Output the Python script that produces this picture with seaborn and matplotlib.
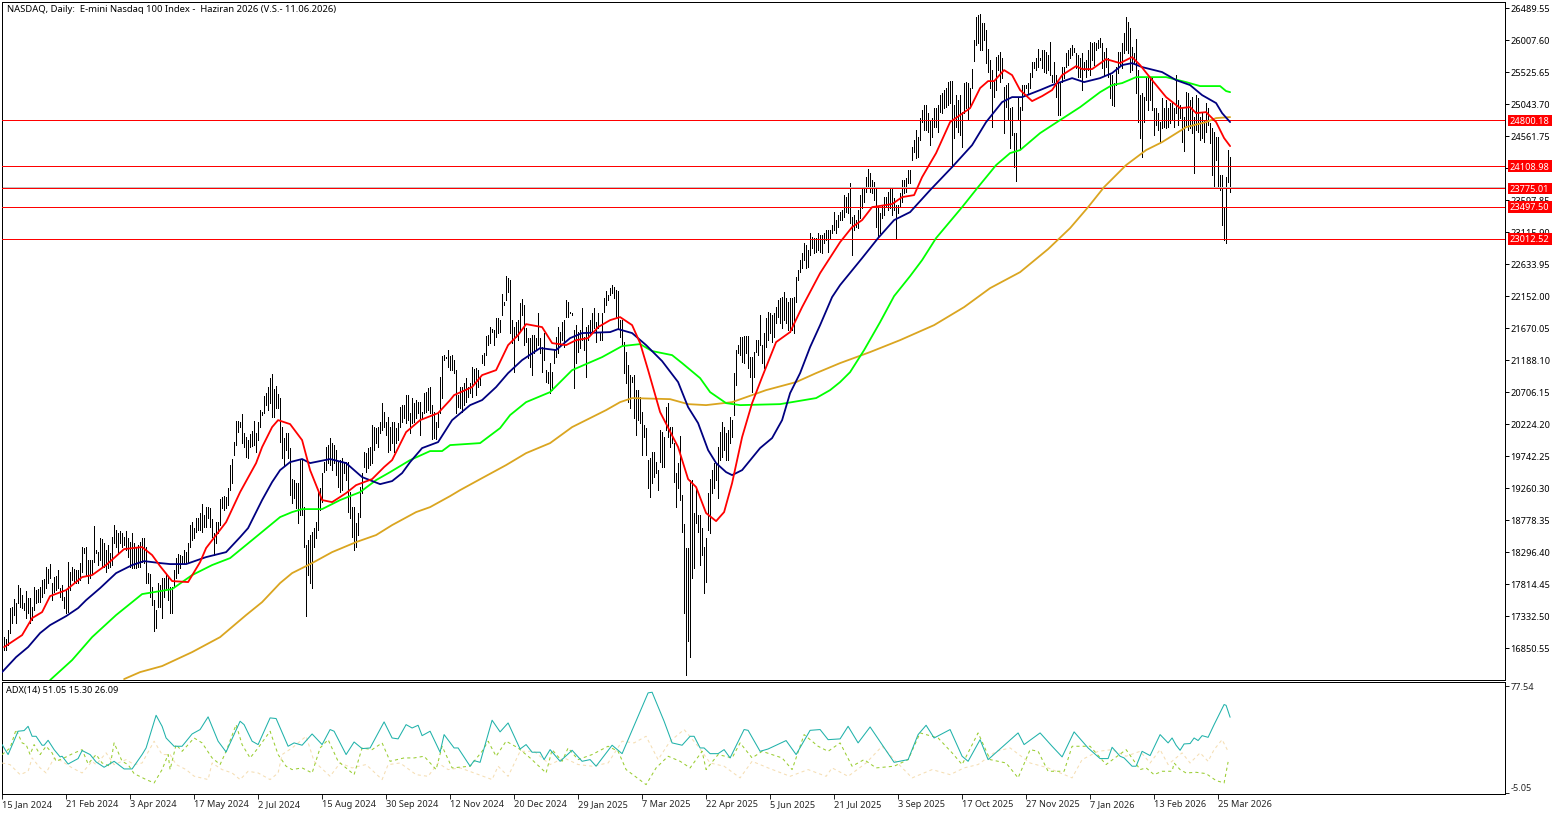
import numpy as np
import pandas as pd
import matplotlib
matplotlib.use("Agg")
import matplotlib.pyplot as plt
from matplotlib.patches import Rectangle
from matplotlib.transforms import blended_transform_factory
import seaborn as sns

bar_high = [
17022,16982,17122,17449,17464,17584,17534,17800,17750,17650,
17524,17715,17600,17600,17474,17765,17725,17745,17765,17875,
17885,18066,18036,18111,17825,17925,17935,18026,17750,17800,
17624,17725,18146,18001,18076,18041,18026,18026,18126,18367,
18352,18367,18177,18177,18177,18689,18327,18302,18503,18488,
18428,18327,18403,18277,18528,18704,18628,18588,18608,18578,
18528,18613,18503,18453,18578,18428,18378,18403,18453,18503,
18513,18378,17976,17966,17775,17574,17424,17825,17800,17900,
17900,17951,17925,17775,17775,18026,18202,18267,18252,18237,
18327,18302,18428,18704,18754,18654,18804,18804,18879,19015,
18854,18970,18980,18955,18794,18578,18744,18754,19090,19130,
19145,19130,19256,19607,19693,19959,20270,20270,20260,20375,
20084,20024,19984,20074,20114,20270,20084,20250,20436,20410,
20646,20697,20787,20912,20978,20747,20797,20677,20611,20185,
20009,20084,20084,19868,19391,19381,19331,19331,19683,19683,
18970,18403,18478,18553,18603,18653,18754,19206,19256,19482,
19657,19883,19908,20009,19934,19908,19833,19657,19683,19708,
19632,19657,19657,19206,18980,18980,18729,18879,19281,19482,
19808,19783,19858,19883,20210,20185,20160,20185,20260,20536,
20410,20260,20335,20185,20260,20260,20160,20235,20486,20511,
20511,20661,20661,20385,20611,20536,20586,20561,20561,20410,
20687,20712,20762,20787,20511,20410,20260,20385,20928,21249,
21264,21239,21339,21249,21264,21189,21038,20661,20787,20787,
20837,20912,20787,20837,21078,21048,21063,21038,20928,21264,
21289,21550,21565,21691,21650,21640,21816,21816,21791,22183,
22067,22454,22418,22393,21791,21691,21766,21791,22042,22102,
22017,21666,21515,21515,21565,21565,21515,21891,21515,21389,
21590,21038,21013,21138,21013,21339,21540,21691,21615,21766,
21791,22092,22067,21917,21891,21640,21716,21615,21640,21967,
21540,21691,21716,21791,21891,21967,21766,21891,21615,21891,
22117,22233,22168,22268,22318,22293,22243,22233,21791,21791,
21465,21314,21113,20963,20938,20963,20737,20737,20636,20410,
20210,20160,19683,19708,19808,19808,19657,19532,20134,20109,
20034,20485,20536,20184,20184,19933,19481,19632,20044,19155,
18718,18352,18352,19381,19381,18879,19281,18854,18854,18653,
18377,18502,19180,19391,19532,19632,19632,19883,20109,20259,
20184,20084,20134,20335,20285,20987,21339,21414,21530,21540,
21550,21555,21550,21238,21238,21314,21489,21489,21866,21414,
21590,21816,21916,21891,21866,21891,21991,22092,22117,22142,
22217,22117,22067,22117,22117,22142,22443,22544,22694,22795,
22945,22920,22845,23096,23046,23020,23020,23106,23071,23071,
23096,23146,23146,23146,23221,23422,23296,23372,23422,23447,
23673,23648,23698,23849,23347,23372,23296,23447,23673,23798,
23798,23949,24059,23999,23899,23874,23773,23497,23397,23522,
23648,23648,23723,23798,23773,23623,23522,23522,23698,23899,
23899,23924,24049,24049,24401,24501,24652,24551,24827,24953,
25028,25028,24903,24802,24827,24978,24978,25028,25179,25204,
25254,25279,25380,25390,25390,25028,25179,25104,25179,24928,
25355,25380,25355,25279,25565,26007,26359,26384,26399,26258,
26268,26158,25867,25706,25555,25405,25756,25781,25831,25731,
25304,25329,25355,24978,25003,24602,24602,25154,25003,25329,
25329,25329,25355,25505,25681,25681,25731,25867,25731,25857,
25857,25831,25781,25982,25480,25681,25480,25380,25380,25606,
25606,25806,25857,25882,25932,25882,25806,25781,25731,25806,
25681,25706,25857,25982,25957,25982,25957,26007,26032,25957,
25831,25882,25731,25505,25480,25355,25606,25831,25831,25957,
26108,26349,26283,26183,25907,25806,26017,25555,25179,25204,
25154,25430,25430,25430,25430,24978,24978,24903,24777,25129,
24978,25104,24978,25053,25053,24978,25480,25104,25028,25003,
24853,25229,25204,25104,25154,24853,25179,25129,24853,24928,
24802,25053,24978,24752,24677,24627,24551,24551,23974,23974,
23497,23949,24351,24250]

bar_low = [
16821,16821,16897,17072,17223,17348,17223,17524,17474,17449,
17424,17298,17373,17223,17273,17424,17524,17549,17549,17624,
17675,17750,17825,17900,17574,17700,17725,17750,17624,17574,
17449,17373,17398,17725,17875,17850,17825,17825,17875,18001,
18277,17951,17825,17900,17976,18151,18277,18101,18177,18076,
18076,18001,18051,18076,18101,18428,18378,18277,18428,18378,
18403,18327,18227,18076,18051,18051,18051,18076,18076,18151,
18126,17825,17825,17624,17499,17112,17147,17474,17474,17298,
17624,17725,17574,17383,17383,17775,17900,17976,18051,18126,
18126,18126,18126,18378,18478,18503,18603,18628,18628,18603,
18679,18679,18804,18679,18528,18252,18428,18578,18704,18955,
18930,18955,19005,19231,19331,19758,19908,20109,20185,19944,
19883,19723,19708,19883,19893,19909,19808,19984,20185,20360,
20385,20511,20436,20536,20335,20335,20461,20461,19959,19708,
19607,19833,19708,19155,19030,19105,18955,18729,18854,18854,
18377,17338,17951,17825,17750,18377,18503,18628,18930,19055,
19507,19532,19632,19607,19532,19632,19457,19281,19206,19231,
19482,19381,18904,18804,18528,18327,18377,18553,18829,19181,
19582,19507,19557,19607,19632,19833,19934,19883,20084,20134,
20185,20059,19808,19833,19934,19808,19934,19984,20185,20260,
20310,20235,20285,20084,20235,20260,20310,20385,20059,20310,
20385,20410,20436,20385,20000,20009,19994,20185,20385,20611,
21189,21214,21088,21038,21038,20988,20395,20486,20461,20410,
20511,20561,20636,20687,20636,20837,20661,20787,20812,21138,
21113,21264,21415,21440,21615,21415,21540,21590,21615,21866,
22017,22092,22218,21590,21440,21013,21540,21490,21640,21866,
21415,21465,21214,21088,20963,21289,21339,21415,21289,21013,
21189,20862,20837,20687,20737,21138,21239,21289,21415,21490,
21389,21841,21841,21891,21866,20762,21138,21314,21364,21490,
21339,20938,21490,21565,21590,21666,21465,21666,21490,21490,
21917,22017,22092,22168,22193,22117,21841,21666,21540,21415,
20988,20837,20561,20461,20862,20310,20059,20285,20235,19758,
20034,19758,19256,19130,19331,19432,19482,19231,19657,19582,
19582,20134,20034,19883,19933,19356,18979,19255,19080,18603,
17373,16444,16961,16720,17900,18051,18728,18603,18101,18251,
17684,17850,18628,18588,19180,19255,19381,19105,19682,19732,
19833,19682,19682,19933,20034,20360,20812,21289,21263,21163,
21138,21289,21063,20937,20711,20937,21314,21263,21414,21138,
21063,21389,21489,21590,21464,21540,21740,21841,21740,21665,
21791,21740,21640,21615,21640,21590,22067,22393,22518,22569,
22694,22569,22594,22769,22870,22795,22820,22845,22820,22795,
22945,22995,22820,23020,23096,23146,23096,23196,23296,23296,
23347,23422,23397,23246,22769,23146,23196,23171,23322,23472,
23572,23723,23773,23723,23698,23597,23196,23045,23096,23322,
23372,23497,23447,23472,23372,23447,23020,23397,23497,23572,
23698,23723,23849,23849,24200,24325,24225,24250,24501,24777,
24652,24652,24627,24426,24551,24702,24702,24627,24928,24903,
24978,25003,25028,25053,24125,24526,24702,24627,24576,24401,
24903,24978,24802,25003,25279,25696,25932,25957,25857,25857,
26007,25656,25530,25279,24702,25154,25254,25555,25380,25430,
24602,25003,24802,24376,24576,24100,23889,24802,24376,24953,
25179,25279,25204,25279,25455,25580,25555,25606,25706,25580,
25530,25505,25555,25480,25380,25380,25154,24878,24878,25380,
25430,25606,25631,25731,25781,25831,25580,25455,25455,25254,
25555,25455,25555,25480,25706,25631,25857,25882,25907,25580,
25480,25606,25455,25129,25028,25013,25329,25505,25631,25580,
25806,25857,25806,25530,25555,25656,25204,24777,24526,24240,
24777,25104,24953,25104,24953,24576,24727,24652,24476,24677,
24702,24677,24702,24752,24802,24702,24903,24727,24827,24476,
24341,24727,24652,24677,24602,23999,24652,24627,24501,24526,
24476,24627,24727,24451,23974,23773,24200,23773,23748,23221,
22995,22955,23874,23723]

red_bar = [1,10,15,20,24,32,40,45,52,61,70,75,79,85,93,99,102,107,112,119,127,130,135,138,144,150,154,160,165,172,177,185,191,195,202,209,218,224,226,235,240,247,253,258,262,270,275,282,287,293,298,304,309,315,319,323,329,338,343,347,352,357,361,365,370,375,380,387,394,400,409,419,425,430,435,445,450,456,460,467,474,484,489,493,496,501,505,509,515,520,525,530,537,540,545,552,559,565,569,575,582,589,594,597,602,607,611,614]
red_val = [16866,17046,17302,17393,17634,17724,17920,17950,18101,18342,18372,18252,18085,17860,17845,18146,18357,18553,18748,19200,19637,19878,20179,20284,20224,19983,19531,19080,19049,19185,19305,19396,19577,19682,20104,20284,20390,20586,20661,20782,20962,21037,21414,21565,21730,21685,21444,21414,21489,21519,21685,21790,21836,21715,21444,21037,20405,19878,19396,19276,18884,18763,18899,19336,20028,20540,20932,21459,21610,21986,22498,22965,23191,23297,23492,23538,23643,23673,23944,24306,24773,24983,25285,25390,25390,25556,25480,25255,25089,25164,25255,25480,25616,25571,25571,25721,25661,25752,25631,25405,25149,24983,24998,24908,24923,24773,24532,24411]

navy_bar = [0,7,13,19,24,32,38,42,49,57,65,71,79,84,92,102,112,119,123,130,135,139,144,150,154,164,172,180,189,195,200,204,210,218,225,234,240,247,253,260,269,277,284,290,304,308,315,322,330,338,343,348,353,357,362,365,370,379,385,390,394,399,404,409,415,419,430,438,446,454,464,475,485,492,500,505,510,519,525,535,541,549,555,560,565,570,580,587,594,600,607,610,614]
navy_val = [16489,16715,16866,17077,17197,17332,17453,17573,17754,17980,18101,18161,18131,18116,18116,18221,18296,18522,18658,19080,19351,19531,19652,19698,19637,19698,19637,19426,19320,19366,19486,19652,19863,19953,20284,20510,20586,20782,20992,21188,21369,21339,21519,21595,21610,21655,21595,21414,21173,20857,20480,20239,19833,19637,19501,19456,19531,19863,20014,20284,20691,20992,21384,21715,22137,22318,22724,23026,23297,23417,23748,24095,24426,24773,25074,25149,25149,25255,25330,25435,25375,25435,25511,25631,25661,25601,25526,25405,25330,25179,25059,24908,24773]

lime_bar = [24,35,45,57,70,85,95,105,114,125,139,145,150,160,169,179,187,194,204,214,220,224,239,249,254,262,274,285,300,310,319,325,335,340,349,354,362,369,389,407,414,419,424,431,439,446,454,460,467,480,488,497,504,509,519,529,539,549,555,560,567,582,592,599,609,612,614]
lime_val = [16369,16670,17016,17348,17664,17739,17950,18101,18206,18477,18824,18899,18944,18944,19080,19200,19381,19501,19682,19818,19818,19908,19938,20164,20360,20555,20706,21037,21233,21399,21429,21324,21263,21143,20917,20706,20540,20510,20525,20616,20736,20857,21007,21339,21760,22152,22453,22694,23026,23492,23794,24125,24306,24351,24607,24803,24998,25224,25330,25360,25450,25450,25375,25315,25315,25240,25224]

gold_bar = [61,69,80,95,109,122,130,139,145,155,165,177,187,195,207,214,224,229,240,252,262,274,285,302,309,315,334,343,352,365,375,382,397,407,419,434,449,466,481,494,509,523,534,543,551,562,572,580,592,602,607,614]
gold_val = [16384,16489,16580,16790,17016,17348,17543,17830,17980,18131,18296,18447,18553,18703,18899,18974,19140,19230,19411,19607,19787,19938,20179,20435,20555,20616,20600,20525,20510,20555,20661,20736,20857,20992,21143,21309,21489,21715,21986,22272,22513,22860,23176,23492,23794,24125,24351,24471,24697,24773,24833,24848]

level_prices = [24800.18, 24108.98, 23775.01, 23497.50, 23012.52]
level_labels = ["24800.18", "24108.98", "23775.01", "23497.50", "23012.52"]
bid_price = 23790

price_ticks = [26489.55,26007.60,25525.65,25043.70,24561.75,24079.80,23597.85,23115.90,22633.95,22152.00,21670.05,21188.10,20706.15,20224.20,19742.25,19260.30,18778.35,18296.40,17814.45,17332.50,16850.55]

adx_bar = [0,3,8,11,13,15,17,20,21,23,26,29,30,33,38,40,44,47,51,56,61,65,70,72,77,80,82,86,90,95,99,103,108,112,119,121,125,128,134,137,143,146,150,155,160,164,166,172,176,180,184,191,195,198,202,205,208,210,214,219,221,226,228,234,236,239,245,249,253,259,262,265,269,271,274,279,285,290,294,297,305,310,323,325,331,335,340,344,346,349,351,354,358,361,364,371,373,379,383,392,397,404,409,413,419,423,428,434,440,446,453,458,462,466,474,480,483,489,493,508,511,519,525,530,536,543,549,553,555,559,561,565,567,570,574,579,583,585,587,589,591,594,596,598,600,603,606,611,612,614]
adx_val = [32.4,24.7,42.7,43.2,46.5,38.8,38.8,31.9,31.9,35.7,28.5,22.9,23.4,17.4,21.6,27.8,24.7,19.0,14.9,19.5,13.6,13.6,24.7,29.8,55.0,46.5,37.5,31.1,31.1,40.6,44.0,53.8,35.0,26.7,50.4,47.8,35.0,32.4,53.0,52.5,31.1,33.7,31.9,40.6,32.4,44.0,42.7,24.7,34.4,29.3,29.8,49.9,37.5,36.8,47.8,45.2,47.3,39.3,42.7,26.5,40.1,29.8,29.8,15.7,20.0,18.7,51.2,42.2,49.1,29.0,32.4,26.5,26.5,20.8,28.5,19.5,28.0,19.5,20.8,15.7,31.9,25.4,72.3,72.8,50.4,33.7,31.9,38.8,38.8,29.8,29.8,25.4,25.4,28.5,22.1,44.0,43.4,27.2,29.0,35.5,24.7,43.4,44.0,36.2,36.8,46.5,33.7,46.0,32.4,18.7,20.8,40.1,47.3,37.5,44.0,23.4,19.5,36.2,20.8,41.4,32.4,41.4,31.1,22.9,42.2,29.8,21.6,21.6,30.3,23.4,22.1,15.7,15.7,27.2,23.9,40.1,33.7,37.5,31.9,28.0,32.9,33.2,37.5,35.5,39.3,38.0,47.8,63.3,62.7,53.5]

plus_bar = [0,4,7,10,12,14,16,19,22,25,27,31,35,40,43,47,50,54,56,60,63,66,72,76,80,83,84,87,90,96,100,105,109,112,117,120,124,128,134,138,142,145,150,155,159,163,168,176,180,185,190,194,201,206,211,217,220,225,234,240,243,247,252,258,264,272,275,280,283,288,295,303,308,312,322,327,333,339,344,350,352,358,365,369,375,380,390,395,401,408,413,419,425,431,437,446,453,459,468,475,480,488,494,502,508,514,518,523,531,535,544,552,562,569,572,576,580,585,586,589,592,597,602,607,611,613]
plus_val = [24.7,29.8,44.0,33.7,32.4,24.7,32.4,24.7,31.1,26.0,19.5,22.1,25.2,28.5,17.5,24.7,18.2,15.7,33.7,19.5,16.9,10.0,5.4,2.8,13.1,24.7,13.1,32.4,27.2,37.5,33.7,22.1,17.0,27.2,47.8,32.4,22.1,29.8,42.7,24.7,15.7,13.1,14.4,10.5,29.8,36.2,19.5,9.2,29.8,28.5,33.7,19.5,22.1,22.1,23.4,13.1,31.1,14.4,15.7,27.2,35.0,23.4,35.0,29.8,22.1,10.5,28.5,19.5,29.8,20.8,24.7,31.1,27.2,13.1,1.5,14.4,23.4,19.5,14.4,27.2,13.1,24.7,22.1,33.7,22.1,27.2,22.1,13.1,40.1,31.1,27.2,33.7,15.7,20.8,14.4,15.7,20.8,41.4,37.5,26.0,17.0,41.4,20.8,18.2,6.7,28.5,27.2,11.8,11.8,31.1,31.1,17.0,28.5,13.1,14.4,9.2,11.8,11.8,18.2,13.1,10.5,11.0,10.0,4.6,2.8,19.0]

minus_bar = [0,4,9,13,15,19,22,26,30,35,40,45,47,52,56,62,66,70,76,80,84,87,92,96,103,105,110,115,119,123,128,134,138,140,145,152,156,164,169,175,182,190,193,199,207,213,218,223,229,236,245,248,253,259,266,274,281,288,295,303,310,316,322,328,334,341,348,354,361,369,375,383,394,403,412,415,423,432,440,446,455,465,474,481,488,497,504,514,523,535,540,548,555,562,569,574,579,583,590,594,599,603,606,610,613]
minus_val = [18.2,16.9,9.2,11.8,22.1,14.4,10.5,22.1,19.5,14.4,10.5,19.5,16.9,26.0,16.9,20.8,16.9,18.2,35.0,24.7,24.7,17.0,13.1,8.0,5.4,18.2,13.1,10.5,5.4,11.8,10.5,5.4,10.5,24.7,29.8,38.8,19.5,7.9,18.2,14.4,17.0,5.4,16.9,18.2,9.2,7.9,18.2,13.1,14.4,10.5,5.4,15.7,7.9,27.2,27.2,17.0,22.1,17.0,15.7,18.2,35.0,33.7,38.8,20.8,35.0,44.0,31.1,18.2,15.7,6.7,19.5,14.4,7.9,13.1,7.9,14.4,7.9,18.2,31.1,20.8,6.7,13.1,9.2,14.4,17.0,27.2,29.8,18.2,14.4,6.7,20.8,27.2,28.5,23.4,27.2,18.2,28.5,17.0,26.0,18.2,26.0,19.5,28.5,36.2,27.2]

date_labels = ["15 Jan 2024","21 Feb 2024","3 Apr 2024","17 May 2024","2 Jul 2024","15 Aug 2024","30 Sep 2024","12 Nov 2024","20 Dec 2024","29 Jan 2025","7 Mar 2025","22 Apr 2025","5 Jun 2025","21 Jul 2025","3 Sep 2025","17 Oct 2025","27 Nov 2025","7 Jan 2026","13 Feb 2026","25 Mar 2026"]
LABEL_EVERY = 32

chart_title = "NASDAQ, Daily:  E-mini Nasdaq 100 Index -  Haziran 2026 (V.S.- 11.06.2026)"
adx_title = "ADX(14) 51.05 15.30 26.09"

sns.set_style("white")
plt.rcParams['font.family'] = ['Noto Sans', 'DejaVu Sans']
W, H = 1563, 815
PX = 0.72
FS = 6.6
fig = plt.figure(figsize=(W/100, H/100), dpi=100)
OFF = 0.4
L, R = 2.5-OFF, 1505.5-OFF
ax = fig.add_axes([L/W, (H-680.5+OFF)/H, (R-L)/W, 678/H])
sub = fig.add_axes([L/W, (H-794.5+OFF)/H, (R-L)/W, 112/H])

step = 481.95/32
y_top = 26489.55 + 6*step
y_bot = 26489.55 - 672*step
xlim = (0, (R-L)/2)
for a in (ax, sub):
    a.set_xlim(*xlim)
    for s in a.spines.values():
        s.set_visible(True)
        s.set_color("black")
        s.set_linewidth(PX)
ax.set_ylim(y_bot, y_top)
adx_step = 82.59/107
sub.set_ylim(77.54 - 108*adx_step, 77.54 + 4*adx_step)

bars = pd.DataFrame({"bar": np.arange(1, len(bar_high)+1), "high": bar_high, "low": bar_low})
ax.vlines(bars["bar"], bars["low"], bars["high"], color="black", lw=PX, antialiased=False, zorder=2)

ax.axhline(bid_price, color="#c0c0c0", lw=PX, antialiased=False, zorder=2.5)
for p in level_prices:
    ax.axhline(p, color="#ff0000", lw=PX, antialiased=False, zorder=3)

for xs, ys, col in [(gold_bar, gold_val, "#DAA520"), (lime_bar, lime_val, "#00FF00"),
                    (navy_bar, navy_val, "#000080"), (red_bar, red_val, "#FF0000")]:
    sns.lineplot(x=xs, y=ys, ax=ax, color=col, linewidth=1.3, estimator=None, sort=False,
                 legend=False, zorder=4)

for xs, ys, col, ls in [(minus_bar, minus_val, "#F5DEB3", (0, (3, 3))),
                        (plus_bar, plus_val, "#9ACD32", (0, (3, 3))),
                        (adx_bar, adx_val, "#20B2AA", "-")]:
    sns.lineplot(x=xs, y=ys, ax=sub, color=col, linewidth=0.75, estimator=None, sort=False,
                 legend=False, linestyle=ls, zorder=3)

ax.set_xlabel(""); ax.set_ylabel(""); sub.set_xlabel(""); sub.set_ylabel("")
ax.set_xticks([])
ax.yaxis.tick_right()
ax.set_yticks(price_ticks)
ax.set_yticklabels([f"{t:.2f}" for t in price_ticks], fontsize=FS, color="black")
ax.tick_params(axis="y", length=3.0, width=PX, pad=0.8, color="black", right=True, left=False)

sub.yaxis.tick_right()
sub.set_yticks([77.54, -5.05])
sub.set_yticklabels(["77.54", "-5.05"], fontsize=FS)
sub.get_yticklabels()[1].set_va("bottom")
sub.tick_params(axis="y", length=3.0, width=PX, pad=0.8, right=True, left=False)
positions = [i*LABEL_EVERY for i in range(len(date_labels))]
sub.set_xticks(positions)
sub.set_xticklabels(date_labels, fontsize=FS, ha="left")
sub.tick_params(axis="x", length=3.6, width=PX, pad=0.6, bottom=True)

trans = blended_transform_factory(ax.transAxes, ax.transData)
box_w = 44/(R-L)
box_h = 11.5*step
for p, lab in zip(level_prices, level_labels):
    ax.add_patch(Rectangle((1+2.5/(R-L), p-box_h/2), box_w, box_h, transform=trans,
                           facecolor="#ff0000", edgecolor="none", clip_on=False, zorder=5))
    ax.text(1+2.5/(R-L)+box_w/2, p, lab, transform=trans, color="white", fontsize=FS,
            ha="center", va="center_baseline", clip_on=False, zorder=6)

fig.text(7/W, 1-9/H, chart_title, fontsize=6.8, color="black", va="center", ha="left")
fig.text(6/W, 1-691/H, adx_title, fontsize=FS, color="black", va="center", ha="left")

fig.savefig("out.png", dpi=100, facecolor="white")
